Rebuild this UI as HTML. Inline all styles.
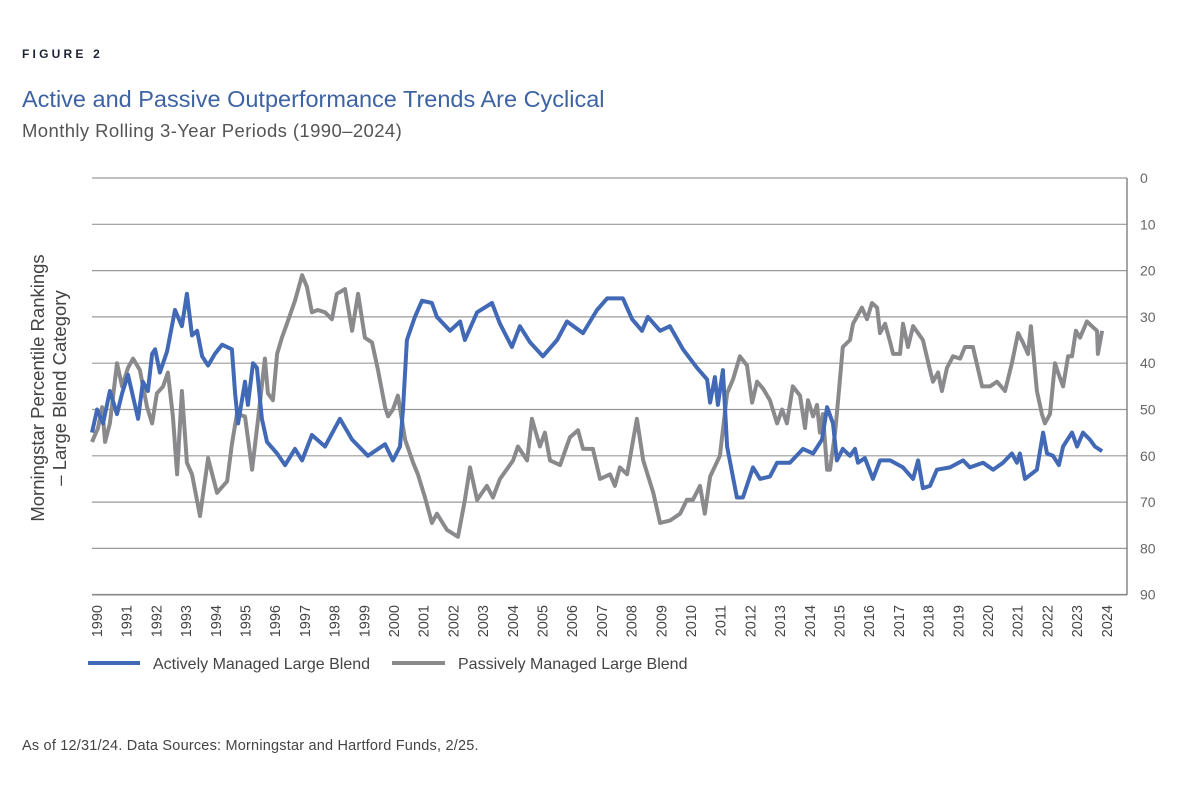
<!DOCTYPE html>
<html><head><meta charset="utf-8"><style>
body{margin:0;background:#fff;width:1200px;height:790px;overflow:hidden;font-family:"Liberation Sans",sans-serif}
svg{position:absolute;left:0;top:0}
</style></head><body>
<svg width="1200" height="790">
<text x="22" y="58" font-size="12" font-weight="bold" letter-spacing="3.2" fill="#1d2333">FIGURE 2</text>
<text x="22" y="107" font-size="23.5" fill="#3d63a3">Active and Passive Outperformance Trends Are Cyclical</text>
<text x="22" y="137" font-size="18.5" letter-spacing="0.4" fill="#555">Monthly Rolling 3-Year Periods (1990–2024)</text>
<g id="grid"></g>
<line x1="1127" y1="178" x2="1127" y2="595" stroke="#777" stroke-width="1.3"/>
<g id="ylab"></g>
<g id="xlab"></g>
<text transform="translate(44,388) rotate(-90)" text-anchor="middle" font-size="18.5" fill="#444"><tspan x="0" y="0">Morningstar Percentile Rankings</tspan><tspan x="0" y="22">– Large Blend Category</tspan></text>
<path id="gray" fill="none" stroke="#8a8a8c" stroke-width="4" stroke-linejoin="round"/>
<path id="blue" fill="none" stroke="#4169b5" stroke-width="4" stroke-linejoin="round"/>
<g>
<line x1="88" y1="663" x2="140" y2="663" stroke="#4169b5" stroke-width="4"/>
<text x="153" y="669" font-size="16" fill="#444">Actively Managed Large Blend</text>
<line x1="392" y1="663" x2="445" y2="663" stroke="#8a8a8c" stroke-width="4"/>
<text x="458" y="669" font-size="16" fill="#444">Passively Managed Large Blend</text>
</g>
<text x="22" y="750" font-size="14.5" letter-spacing="0.2" fill="#444">As of 12/31/24. Data Sources: Morningstar and Hartford Funds, 2/25.</text>
</svg>
<script>
const yTicks=[0,10,20,30,40,50,60,70,80,90];
const xYears=[];for(let y=1990;y<=2024;y++)xYears.push(String(y));
const activeDates=[1990.00,1990.17,1990.37,1990.60,1990.84,1991.01,1991.21,1991.55,1991.71,1991.88,1992.02,1992.12,1992.28,1992.52,1992.79,1993.02,1993.19,1993.36,1993.53,1993.70,1993.90,1994.13,1994.37,1994.70,1994.81,1994.91,1995.14,1995.24,1995.41,1995.54,1995.71,1995.88,1996.22,1996.49,1996.82,1997.06,1997.39,1997.83,1998.33,1998.74,1999.27,1999.85,2000.11,2000.35,2000.45,2000.58,2000.85,2001.09,2001.42,2001.59,2002.03,2002.37,2002.53,2002.94,2003.44,2003.71,2004.11,2004.38,2004.72,2005.15,2005.63,2005.96,2006.50,2006.97,2007.31,2007.84,2008.15,2008.48,2008.68,2009.09,2009.42,2009.86,2010.33,2010.67,2010.77,2010.93,2011.03,2011.20,2011.34,2011.67,2011.87,2012.21,2012.45,2012.78,2013.02,2013.45,2013.89,2014.23,2014.53,2014.70,2014.90,2015.03,2015.23,2015.47,2015.64,2015.74,2015.97,2016.24,2016.48,2016.82,2017.25,2017.59,2017.76,2017.92,2018.16,2018.39,2018.83,2019.27,2019.50,2019.94,2020.28,2020.61,2020.91,2021.08,2021.18,2021.35,2021.75,2021.96,2022.09,2022.29,2022.49,2022.63,2022.93,2023.10,2023.30,2023.53,2023.70,2023.94];
const activeValues=[55,50,53,46,51,46.5,42.5,52,44,46,38,37,42,37.5,28.5,32,25,34,33,38.5,40.5,38,36,37,46.5,53,44,49,40,41,52,57,59.5,62,58.5,61,55.5,58,52,56.5,60,57.5,61,58,50,35,30,26.5,27,30,33,31,35,29,27,31.5,36.5,32,35.5,38.5,35,31,33.5,28.5,26,26,30.5,33,30,33,32,37,41,43.5,48.5,43,49,41.5,58,69,69,62.5,65,64.5,61.5,61.5,58.5,59.5,56.5,49.5,53,61,58.5,60,58.5,61.5,60.5,65,61,61,62.5,65,61,67,66.5,63,62.5,61,62.5,61.5,63,61.5,59.5,61.5,59.5,65,63,55,59.5,60,62,58,55,58,55,56.5,58,59];
const passiveDates=[1990.00,1990.20,1990.34,1990.44,1990.60,1990.84,1991.01,1991.21,1991.38,1991.61,1991.85,1992.02,1992.18,1992.39,1992.55,1992.72,1992.86,1993.02,1993.19,1993.36,1993.63,1993.90,1994.20,1994.54,1994.70,1994.87,1995.14,1995.38,1995.58,1995.81,1995.91,1996.08,1996.22,1996.38,1996.55,1996.82,1997.06,1997.22,1997.39,1997.59,1997.83,1998.06,1998.23,1998.50,1998.74,1998.94,1999.17,1999.41,1999.61,1999.85,1999.95,2000.11,2000.28,2000.52,2000.79,2000.95,2001.19,2001.42,2001.59,2001.93,2002.30,2002.53,2002.70,2002.94,2003.27,2003.47,2003.71,2004.15,2004.31,2004.62,2004.78,2005.05,2005.22,2005.39,2005.73,2006.06,2006.33,2006.50,2006.83,2007.07,2007.41,2007.57,2007.74,2007.98,2008.31,2008.52,2008.86,2009.09,2009.42,2009.76,2009.99,2010.19,2010.43,2010.59,2010.77,2011.10,2011.34,2011.54,2011.77,2012.01,2012.18,2012.35,2012.55,2012.78,2013.02,2013.19,2013.35,2013.55,2013.79,2013.96,2014.06,2014.23,2014.36,2014.46,2014.56,2014.70,2014.80,2014.97,2015.07,2015.23,2015.47,2015.57,2015.87,2016.04,2016.21,2016.38,2016.48,2016.65,2016.82,2016.92,2017.15,2017.25,2017.42,2017.59,2017.92,2018.16,2018.26,2018.43,2018.56,2018.73,2018.93,2019.17,2019.33,2019.60,2019.91,2020.17,2020.41,2020.68,2020.91,2021.12,2021.28,2021.45,2021.55,2021.75,2021.92,2022.02,2022.19,2022.36,2022.46,2022.63,2022.80,2022.93,2023.06,2023.20,2023.43,2023.60,2023.77,2023.80,2023.94];
const passiveValues=[57,54,49.5,57,53,40,45,41,39,41.5,49.5,53,46.5,45,42,51.5,64,46,61.5,64,73,60.5,68,65.5,57.5,51,51.5,63,52,39,46.5,48,38,34.5,31.5,26.5,21,23.5,29,28.5,29,30.5,25,24,33,25,34.5,35.5,41.5,49.5,51.5,50,47,56.5,61.5,64,69,74.5,72.5,76,77.5,69.5,62.5,69.5,66.5,69,65,61,58,61,52,58,55,61,62,56,54.5,58.5,58.5,65,64,66.5,62.5,64,52,61,68,74.5,74,72.5,69.5,69.5,66.5,72.5,64.5,60,46.5,43.5,38.5,40.5,48.5,44,45.5,48,53,50,53,45,47,54,48,51.5,49,55,51,63,63,55,48,36.5,35,31.5,28,30.5,27,28,33.5,31.5,35.5,38,38,31.5,36.5,32,35,41.5,44,42,46,41,38.5,39,36.5,36.5,45,45,44,46,40,33.5,35.5,38,32,46,51,53,51,40,42,45,38.5,38.5,33,34.5,31,32,33,38,33];
const NS='http://www.w3.org/2000/svg';
const X0=92,PXY=29.76,Y0=178,PXV=4.63;
const xs=d=>X0+(d-1990)*PXY, ys=v=>Y0+v*PXV;
const grid=document.getElementById('grid'),ylab=document.getElementById('ylab'),xlab=document.getElementById('xlab');
yTicks.forEach((t,i)=>{
  const l=document.createElementNS(NS,'line');
  l.setAttribute('x1',92);l.setAttribute('x2',1127);l.setAttribute('y1',ys(t));l.setAttribute('y2',ys(t));
  l.setAttribute('stroke',t===90?'#888':'#9a9a9a');l.setAttribute('stroke-width',t===90?1.6:1.2);
  
  
  grid.appendChild(l);
  const tx=document.createElementNS(NS,'text');
  tx.setAttribute('x',1140);tx.setAttribute('y',ys(t)+5);tx.setAttribute('font-size',14);tx.setAttribute('fill','#666');
  tx.textContent=t;
  
  
  ylab.appendChild(tx);
});
xYears.forEach((y,i)=>{
  const tx=document.createElementNS(NS,'text');
  const x=97+i*29.7+5;
  tx.setAttribute('transform','translate('+x+',605) rotate(-90)');
  tx.setAttribute('text-anchor','end');tx.setAttribute('font-size',14.5);tx.setAttribute('fill','#444');
  tx.textContent=y;
  
  
  xlab.appendChild(tx);
});
function path(d,v){return d.map((t,i)=>(i?'L':'M')+xs(t).toFixed(1)+','+ys(v[i]).toFixed(1)).join(' ');}
document.getElementById('gray').setAttribute('d',path(passiveDates,passiveValues));
document.getElementById('blue').setAttribute('d',path(activeDates,activeValues));
</script>
</body></html>
